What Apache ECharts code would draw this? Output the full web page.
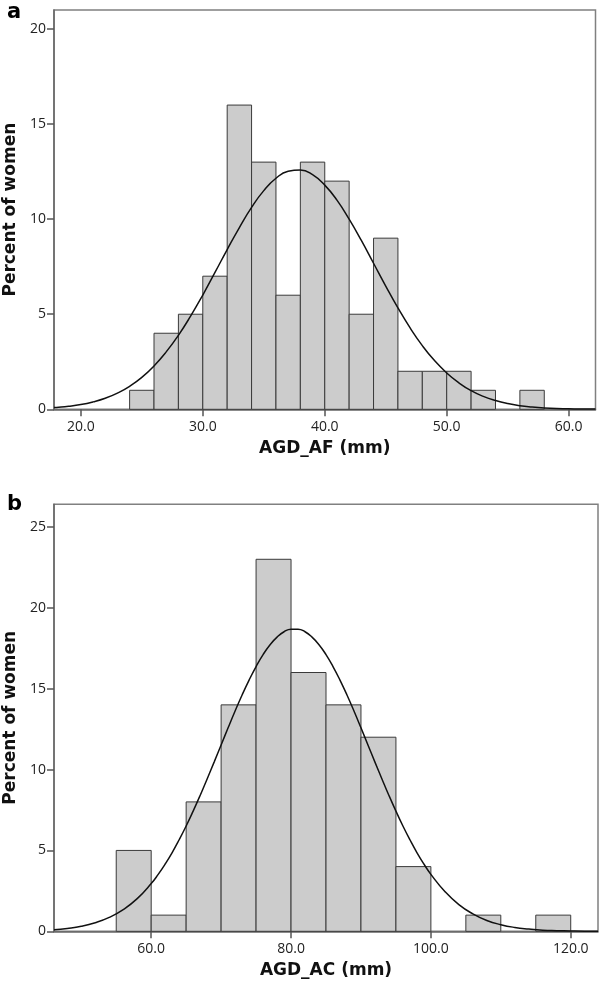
<!DOCTYPE html>
<html>
<head>
<meta charset="utf-8">
<script src="https://cdn.jsdelivr.net/npm/echarts@6/dist/echarts.min.js"></script>
<style>
html,body{margin:0;padding:0;background:#fff;}
#chart{width:600px;height:988px;}
</style>
</head>
<body>
<div id="chart"></div>
<script>
// Panel a: AGD_AF histogram (bin width 2 mm)
var binStartsA = [24, 26, 28, 30, 32, 34, 36, 38, 40, 42, 44, 46, 48, 50, 52, 56];
var binEndsA   = [26, 28, 30, 32, 34, 36, 38, 40, 42, 44, 46, 48, 50, 52, 54, 58];
var percentA   = [1, 4, 5, 7, 16, 13, 6, 13, 12, 5, 9, 2, 2, 2, 1, 1];
// normal curve
var curveXA = [17.8, 18, 19, 20, 21, 22, 23, 24, 25, 26, 27, 28, 29, 30, 31, 32, 33, 34, 35, 36, 37, 38, 39, 40, 41, 42, 43, 44, 45, 46, 47, 48, 49, 50, 51, 52, 53, 54, 55, 56, 57, 58, 59, 60, 61, 62, 62.2];
var curveYA = [0.09, 0.10, 0.16, 0.25, 0.39, 0.58, 0.85, 1.21, 1.68, 2.28, 3.02, 3.89, 4.90, 6.01, 7.20, 8.40, 9.56, 10.62, 11.50, 12.15, 12.52, 12.59, 12.34, 11.79, 11.00, 10.00, 8.88, 7.68, 6.48, 5.33, 4.28, 3.35, 2.56, 1.91, 1.39, 0.98, 0.68, 0.46, 0.30, 0.19, 0.12, 0.07, 0.04, 0.03, 0.01, 0.01, 0.01];
var xTicksA = [20, 30, 40, 50, 60];
var yTicksA = [0, 5, 10, 15, 20];

// Panel b: AGD_AC histogram (bin width 5 mm)
var binStartsB = [55, 60, 65, 70, 75, 80, 85, 90, 95, 105, 115];
var binEndsB   = [60, 65, 70, 75, 80, 85, 90, 95, 100, 110, 120];
var percentB   = [5, 1, 8, 14, 23, 16, 14, 12, 4, 1, 1];
var curveXB = [46.1, 48, 50, 52, 54, 56, 58, 60, 61, 62, 63, 64, 65, 66, 67, 68, 69, 70, 71, 72, 73, 74, 75, 76, 77, 78, 79, 80, 81, 82, 83, 84, 85, 86, 87, 88, 89, 90, 91, 92, 93, 94, 95, 96, 97, 98, 99, 100, 102, 104, 106, 108, 110, 112, 114, 116, 118, 120, 122, 123.9];
var curveYB = [0.10, 0.18, 0.31, 0.53, 0.86, 1.34, 2.02, 2.95, 3.52, 4.16, 4.87, 5.66, 6.51, 7.43, 8.40, 9.42, 10.46, 11.52, 12.58, 13.62, 14.61, 15.53, 16.37, 17.11, 17.72, 18.19, 18.52, 18.68, 18.68, 18.52, 18.19, 17.72, 17.11, 16.37, 15.53, 14.61, 13.62, 12.58, 11.52, 10.46, 9.42, 8.40, 7.43, 6.51, 5.66, 4.87, 4.16, 3.52, 2.46, 1.65, 1.08, 0.67, 0.41, 0.24, 0.14, 0.07, 0.04, 0.02, 0.01, 0.01];
var xTicksB = [60, 80, 100, 120];
var yTicksB = [0, 5, 10, 15, 20, 25];

function zip3(a, b, c) { return a.map(function (v, i) { return [v, b[i], c[i]]; }); }
function zip2(a, b) { return a.map(function (v, i) { return [v, b[i]]; }); }

var FONT = 'DejaVu Sans';
var TFONT = 'Open Sans';
function renderBar(params, api) {
  var p0 = api.coord([api.value(0), api.value(2)]);
  var p1 = api.coord([api.value(1), 0]);
  return {
    type: 'rect',
    shape: { x: p0[0], y: p0[1], width: p1[0] - p0[0], height: p1[1] - p0[1] },
    style: { fill: '#cccccc', stroke: '#3a3a3a', lineWidth: 1 }
  };
}
function xAx(idx, min, max, ticks, name) {
  return {
    type: 'value', gridIndex: idx, min: min, max: max,
    name: name, nameLocation: 'middle', nameGap: 31,
    nameTextStyle: { fontFamily: FONT, fontWeight: 'bold', fontSize: 17, color: '#111' },
    axisLine: { show: true, lineStyle: { color: '#666', width: 1.5 } },
    axisTick: { show: true, customValues: ticks, length: 7, lineStyle: { color: '#555', width: 1.5 } },
    axisLabel: { customValues: ticks, fontFamily: TFONT, fontSize: 14, color: '#222', margin: 11,
      formatter: function (v) { return Number(v).toFixed(1); } },
    splitLine: { show: false }
  };
}
function yAx(idx, max, ticks) {
  return {
    type: 'value', gridIndex: idx, min: 0, max: max,
    name: 'Percent of women', nameLocation: 'middle', nameGap: 35,
    nameTextStyle: { fontFamily: FONT, fontWeight: 'bold', fontSize: 17, color: '#111' },
    axisLine: { show: true, lineStyle: { color: '#666', width: 1.5 } },
    axisTick: { show: true, customValues: ticks, length: 7, lineStyle: { color: '#555', width: 1.5 } },
    axisLabel: { customValues: ticks, fontFamily: TFONT, fontSize: 14, color: '#222', margin: 8 },
    splitLine: { show: false }
  };
}

var chart = echarts.init(document.getElementById('chart'), null, { renderer: 'canvas' });
chart.setOption({
  animation: false,
  backgroundColor: '#ffffff',
  title: [
    { text: 'a', left: 2, top: -3, textStyle: { fontFamily: FONT, fontWeight: 'bold', fontSize: 21, color: '#000' } },
    { text: 'b', left: 2, top: 489, textStyle: { fontFamily: FONT, fontWeight: 'bold', fontSize: 21, color: '#000' } }
  ],
  grid: [
    { left: 54, top: 10, width: 541.5, height: 399.3, containLabel: false, outerBoundsMode: 'none',
      show: true, borderColor: '#808080', borderWidth: 1.5, backgroundColor: 'transparent' },
    { left: 54, top: 504.3, width: 544, height: 427, containLabel: false, outerBoundsMode: 'none',
      show: true, borderColor: '#808080', borderWidth: 1.5, backgroundColor: 'transparent' }
  ],
  xAxis: [
    xAx(0, 17.8, 62.2, xTicksA, 'AGD_AF (mm)'),
    xAx(1, 46.1, 123.9, xTicksB, 'AGD_AC (mm)')
  ],
  yAxis: [
    yAx(0, 21, yTicksA),
    yAx(1, 26.4, yTicksB)
  ],
  series: [
    { type: 'custom', xAxisIndex: 0, yAxisIndex: 0, renderItem: renderBar,
      encode: { x: [0, 1], y: 2 }, data: zip3(binStartsA, binEndsA, percentA), z: 2 },
    { type: 'line', xAxisIndex: 0, yAxisIndex: 0, data: zip2(curveXA, curveYA), smooth: true,
      showSymbol: false, lineStyle: { color: '#111', width: 1.5 }, z: 3 },
    { type: 'custom', xAxisIndex: 1, yAxisIndex: 1, renderItem: renderBar,
      encode: { x: [0, 1], y: 2 }, data: zip3(binStartsB, binEndsB, percentB), z: 2 },
    { type: 'line', xAxisIndex: 1, yAxisIndex: 1, data: zip2(curveXB, curveYB), smooth: true,
      showSymbol: false, lineStyle: { color: '#111', width: 1.5 }, z: 3 }
  ]
});
</script>
</body>
</html>
